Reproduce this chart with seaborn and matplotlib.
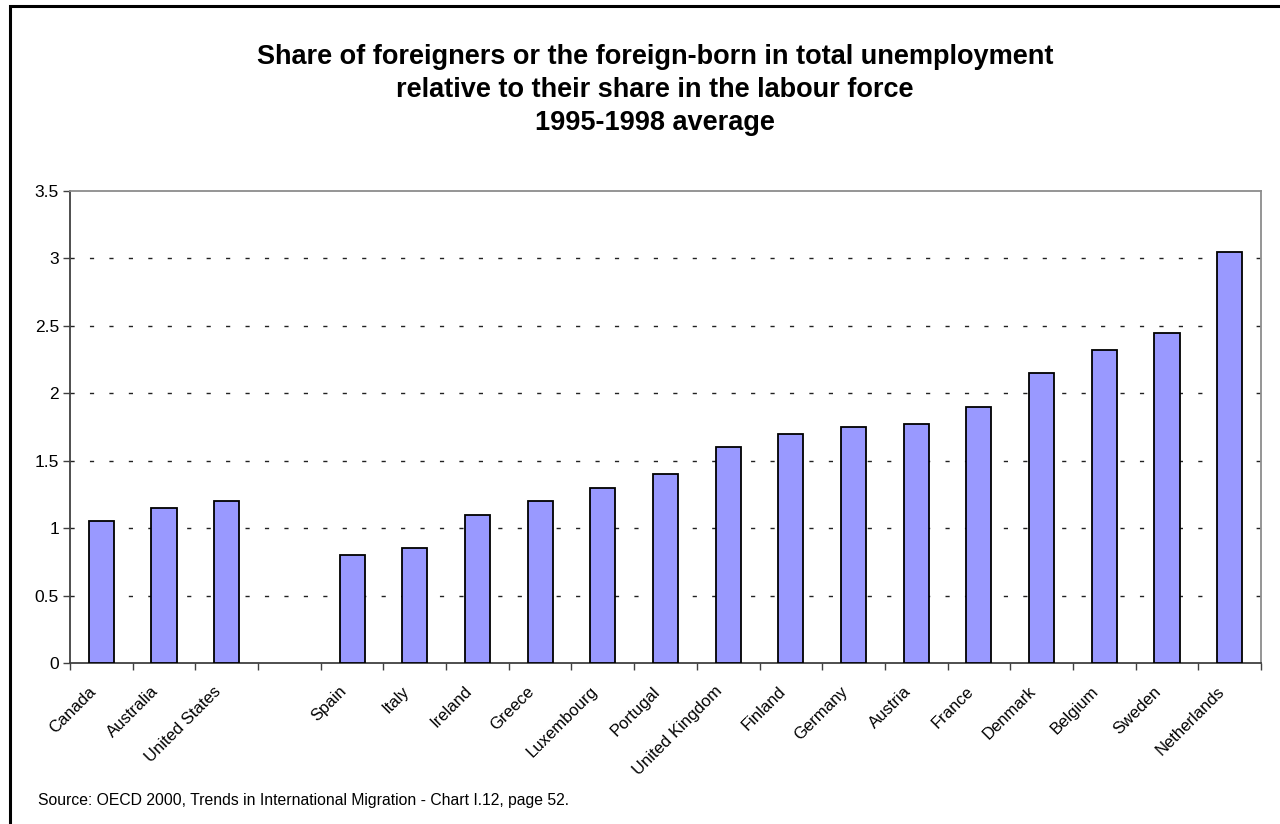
import matplotlib
matplotlib.use("Agg")
import matplotlib.pyplot as plt
from matplotlib.patches import Rectangle
from matplotlib.ticker import FixedLocator, FormatStrFormatter
from matplotlib.transforms import ScaledTranslation
import seaborn as sns
import pandas as pd

# Ratio of share in unemployment to share in the labour force, 1995-1998 average
countries = ["Canada", "Australia", "United States",
             "Spain", "Italy", "Ireland", "Greece", "Luxembourg", "Portugal",
             "United Kingdom", "Finland", "Germany", "Austria", "France",
             "Denmark", "Belgium", "Sweden", "Netherlands"]
ratios = [1.05, 1.15, 1.20,
          0.80, 0.85, 1.10, 1.20, 1.30, 1.40,
          1.60, 1.70, 1.75, 1.77, 1.90,
          2.15, 2.32, 2.45, 3.05]
# settlement countries first, then a blank slot, then European countries
order = countries[:3] + [" "] + countries[3:]
y_ticks = [0, 0.5, 1, 1.5, 2, 2.5, 3, 3.5]

title = ("Share of foreigners or the foreign-born in total unemployment\n"
         "relative to their share in the labour force\n"
         "1995-1998 average")
source = "Source: OECD 2000, Trends in International Migration - Chart I.12, page 52."

df = pd.DataFrame({"country": countries, "ratio": ratios})

sns.set_theme(style="white")
plt.rcParams["font.family"] = ["Liberation Sans", "DejaVu Sans"]
plt.rcParams["text.color"] = "black"
plt.rcParams["xtick.labelcolor"] = "black"
plt.rcParams["ytick.labelcolor"] = "black"

W, H = 1280, 824
fig = plt.figure(figsize=(W / 100, H / 100), dpi=100)
fig.patch.set_facecolor("white")

# outer frame (right and bottom edges fall outside the canvas)
fig.patches.append(Rectangle((10 / W, 0 - 0.01), 1.0, 1 - 6 / H + 0.01,
                             transform=fig.transFigure, fill=False,
                             edgecolor="black", linewidth=2.2, zorder=10))

ax = fig.add_axes([70 / W, 1 - 663 / H, (1261 - 70) / W, (663 - 191) / H])

sns.barplot(data=df, x="country", y="ratio", order=order, ax=ax,
            width=0.4, color="#9999FF", saturation=1,
            edgecolor="black", linewidth=1.3, errorbar=None, zorder=3)

ax.set_xlim(-0.5, len(order) - 0.5)
ax.set_ylim(0, 3.5)
ax.set_xlabel("")
ax.set_ylabel("")

# y axis
ax.yaxis.set_major_locator(FixedLocator(y_ticks))
ax.yaxis.set_major_formatter(FormatStrFormatter("%g"))
ax.tick_params(axis="y", which="major", direction="out", length=5, width=1,
               color="#404040", labelsize=12.5, pad=3, left=True)
for v in y_ticks[1:-1]:
    ax.axhline(v, color="#222222", linewidth=1.0, linestyle=(0, (3, 11)), zorder=1)

# x axis: labels at category centres, tick marks on slot boundaries
ax.set_xticks(range(len(order)))
ax.set_xticklabels(order, rotation=45, ha="right", va="center",
                   rotation_mode="anchor", fontsize=12)
ax.tick_params(axis="x", which="major", length=0, pad=0)
shift = ScaledTranslation(-8 / 100, -26 / 100, fig.dpi_scale_trans)
for lab in ax.get_xticklabels():
    lab.set_transform(lab.get_transform() + shift)
ax.set_xticks([i - 0.5 for i in range(len(order) + 1)], minor=True)
ax.tick_params(axis="x", which="minor", direction="out", length=5, width=1,
               color="#404040", bottom=True)

for side in ["left", "bottom"]:
    ax.spines[side].set_color("#404040")
    ax.spines[side].set_linewidth(1.3)
for side in ["top", "right"]:
    ax.spines[side].set_color("#8c8c8c")
    ax.spines[side].set_linewidth(1.3)
    ax.spines[side].set_visible(True)

fig.text(655 / W, 1 - 90 / H, title, ha="center", va="center",
         fontsize=19.5, fontweight="bold", linespacing=1.36)
fig.text(38 / W, 1 - 800 / H, source, ha="left", va="center", fontsize=11.3)

fig.savefig("out.png", dpi=100, facecolor="white")
